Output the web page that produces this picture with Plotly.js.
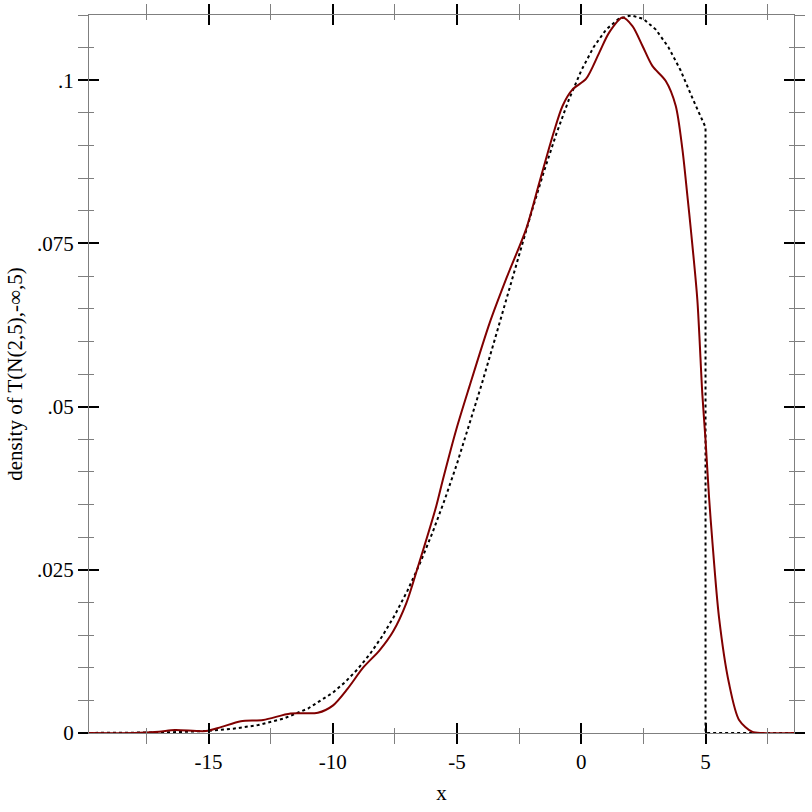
<!DOCTYPE html>
<html>
<head>
<meta charset="utf-8">
<script src="https://cdn.plot.ly/plotly-3.0.1.min.js"></script>
<style>html,body{margin:0;padding:0;background:#fff;}</style>
</head>
<body>
<div id="chart" style="width:812px;height:812px;"></div>
<script>
// Dotted curve: density of truncated normal T(N(2,5),-inf,5)
const pdfX = [-19.81,-19,-18,-17,-16,-15,-14,-13,-12,-11,-10,-9.5,-9,-8.5,-8,-7.5,-7,-6.5,-6,-5.5,-5,-4.5,-4,-3.5,-3,-2.5,-2,-1.5,-1,-0.5,0,0.5,1,1.5,2,2.5,3,3.5,4,4.5,5,5,8.56];
const pdfY = [0.00001,0.000016,0.000037,0.00008,0.00017,0.00034,0.00066,0.00122,0.00218,0.00374,0.00617,0.00781,0.00978,0.01212,0.01488,0.01808,0.02176,0.02592,0.03057,0.03570,0.04127,0.04723,0.05352,0.06004,0.06669,0.07333,0.07984,0.08606,0.09184,0.09703,0.10150,0.10511,0.10777,0.10940,0.10995,0.10940,0.10777,0.10511,0.10150,0.09703,0.09280,0,0];

// Solid curve: estimated density from samples
const kdeX = [-19.81,-18,-17,-16.35,-15.1,-14.5,-13.7,-12.8,-11.7,-10.6,-10.0,-9.4,-8.78,-8.11,-7.58,-7.04,-6.57,-5.84,-5.57,-5.03,-4.5,-3.69,-3.0,-2.22,-1.69,-1.15,-0.75,-0.35,0.19,0.72,1.12,1.66,2.06,2.46,2.86,3.4,3.8,4.07,4.27,4.41,4.67,4.87,5.0,5.14,5.27,5.54,5.94,6.35,6.87,7.3,8.56];
const kdeY = [0,0,0.0002,0.00046,0.0003,0.0009,0.0018,0.0020,0.0030,0.0031,0.0042,0.0068,0.0100,0.0127,0.0155,0.0199,0.0255,0.0347,0.0388,0.0465,0.0531,0.0628,0.0698,0.0772,0.0843,0.0915,0.0961,0.0986,0.1002,0.1042,0.1073,0.1096,0.1083,0.1053,0.1022,0.0999,0.0961,0.0894,0.0823,0.0771,0.0664,0.0520,0.0449,0.0362,0.0296,0.0178,0.0077,0.0020,0.0002,0,0];

const xMajor = [-15,-10,-5,0,5];
const xMajorText = ['-15','-10','-5','0','5'];
const xMinor = [-17.5,-12.5,-7.5,-2.5,2.5,7.5];
const yMajor = [0,0.025,0.05,0.075,0.1];
const yMajorText = ['0','.025','.05','.075','.1'];

const xRange = [-19.81, 8.56];
const yRange = [0, 0.11];

const font = {family: 'Liberation Serif, Times New Roman, serif', size: 21, color: '#000'};
const frameGray = '#7f7f7f';

const traces = [
  {x: pdfX, y: pdfY, type: 'scatter', mode: 'lines', line: {color: '#000', width: 2, dash: '3px,3px'}, showlegend: false, hoverinfo: 'skip'},
  {x: kdeX, y: kdeY, type: 'scatter', mode: 'lines', line: {color: '#800000', width: 2, shape: 'spline', smoothing: 0.8}, showlegend: false, hoverinfo: 'skip'},
  // empty traces so the tick-only overlay axes are drawn
  {x: [], y: [], xaxis: 'x2', yaxis: 'y', type: 'scatter', mode: 'lines', showlegend: false},
  {x: [], y: [], xaxis: 'x3', yaxis: 'y', type: 'scatter', mode: 'lines', showlegend: false},
  {x: [], y: [], xaxis: 'x', yaxis: 'y2', type: 'scatter', mode: 'lines', showlegend: false},
  {x: [], y: [], xaxis: 'x', yaxis: 'y3', type: 'scatter', mode: 'lines', showlegend: false}
];

function xAxis(ticks, extra) {
  return Object.assign({
    range: xRange, autorange: false, showgrid: false, zeroline: false,
    tickmode: 'array', tickvals: xMajor, ticktext: xMajorText, ticks: ticks,
    ticklen: 10, tickwidth: 2, tickcolor: '#000', tickfont: font,
    minor: {tickmode: 'array', tickvals: xMinor, ticks: ticks, ticklen: 5, tickwidth: 1, tickcolor: frameGray, showgrid: false}
  }, extra);
}
function yAxis(ticks, extra) {
  return Object.assign({
    range: yRange, autorange: false, showgrid: false, zeroline: false,
    tickmode: 'array', tickvals: yMajor, ticktext: yMajorText, ticks: ticks,
    ticklen: 10, tickwidth: 2, tickcolor: '#000', tickfont: font,
    minor: {tick0: 0, dtick: 0.005, ticks: ticks, ticklen: 5, tickwidth: 1, tickcolor: frameGray, showgrid: false}
  }, extra);
}

const layout = {
  width: 812, height: 812,
  margin: {l: 89, r: 18, t: 15, b: 79},
  paper_bgcolor: '#fff', plot_bgcolor: '#fff',
  showlegend: false,
  xaxis: xAxis('outside', {mirror: 'allticks', showline: true, linecolor: frameGray, linewidth: 1,
    title: {text: 'x', font: font, standoff: 12}}),
  xaxis2: xAxis('inside', {overlaying: 'x', anchor: 'y', side: 'bottom', showticklabels: false, showline: false}),
  xaxis3: xAxis('inside', {overlaying: 'x', anchor: 'y', side: 'top', showticklabels: false, showline: false}),
  yaxis: yAxis('outside', {mirror: 'allticks', showline: true, linecolor: frameGray, linewidth: 1,
    title: {text: 'density of T(N(2,5),-∞,5)', font: font, standoff: 8}}),
  yaxis2: yAxis('inside', {overlaying: 'y', anchor: 'x', side: 'left', showticklabels: false, showline: false}),
  yaxis3: yAxis('inside', {overlaying: 'y', anchor: 'x', side: 'right', showticklabels: false, showline: false})
};

Plotly.newPlot('chart', traces, layout, {staticPlot: true, displayModeBar: false});
</script>
</body>
</html>
